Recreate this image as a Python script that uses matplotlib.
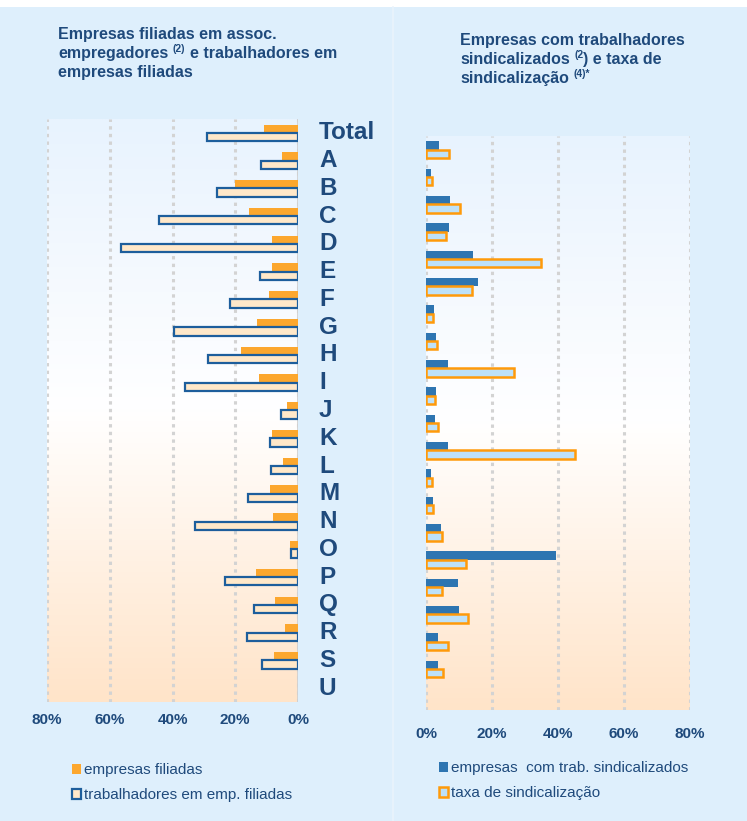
import numpy as np
import matplotlib
matplotlib.use("Agg")
import matplotlib.pyplot as plt
from matplotlib.patches import Patch, Rectangle
from matplotlib.lines import Line2D
from matplotlib.colors import LinearSegmentedColormap

# ---------------- data ----------------
categories = ["Total", "A", "B", "C", "D", "E", "F", "G", "H", "I", "J",
              "K", "L", "M", "N", "O", "P", "Q", "R", "S", "U"]
# left panel (%)
emp_filiadas = [10.7, 5.0, 20.2, 15.7, 8.4, 8.3, 9.3, 13.1, 18.2, 12.5, 3.5,
                8.3, 4.9, 8.8, 7.9, 2.4, 13.4, 7.2, 4.2, 7.8, None]
trab_emp_filiadas = [29.0, 11.8, 25.8, 44.2, 56.4, 12.2, 21.8, 39.6, 28.8, 35.9, 5.4,
                     8.8, 8.5, 16.0, 32.7, 2.3, 23.2, 13.9, 16.1, 11.5, None]
# right panel (%)
emp_trab_sind = [3.9, 1.4, 7.2, 7.0, 14.2, 15.9, 2.3, 3.0, 6.8, 2.9, 2.7,
                 6.8, 1.4, 2.2, 4.4, 39.4, 9.6, 10.0, 3.7, 3.5, None]
taxa_sind = [7.1, 1.9, 10.3, 6.2, 34.8, 14.0, 2.2, 3.3, 26.8, 2.8, 3.5,
             45.0, 1.8, 2.1, 4.9, 12.1, 4.9, 12.6, 6.6, 5.3, None]
ticks_left = [80, 60, 40, 20, 0]
ticks_right = [0, 20, 40, 60, 80]
tick_labels_left = ["80%", "60%", "40%", "20%", "0%"]
tick_labels_right = ["0%", "20%", "40%", "60%", "80%"]

# title lines as (text, superscript?) pieces; None = word space
title_left = [[("Empresas filiadas em assoc.", False)],
              [("empregadores", False), None, ("(2)", True), None,
               ("e trabalhadores em", False)],
              [("empresas filiadas", False)]]
title_right = [[("Empresas com trabalhadores", False)],
               [("sindicalizados", False), None, ("(2", True),
                (") e taxa de", False)],
               [("sindicalização", False), None, ("(4)*", True)]]
legend_left = ["empresas filiadas", "trabalhadores em emp. filiadas"]
legend_right = ["empresas  com trab. sindicalizados", "taxa de sindicalização"]

# ---------------- style ----------------
plt.rcParams['font.family'] = ['Liberation Sans', 'DejaVu Sans']

W, H = 747, 821
BG = "#DEEFFC"
NAVY = "#1F4A7C"
ORANGE = "#FCA72E"
PEACH = "#FFE8C9"
DBLUE = "#1D5E9C"
MBLUE = "#2E75B1"
LBLUE = "#BDE1F9"
ORANGE_EDGE = "#FF9A0A"
GRID = "#D3D3D3"

fig = plt.figure(figsize=(W / 100, H / 100), dpi=100)
fig.patch.set_facecolor(BG)

# white strip at top & faint separator
fig.add_artist(Rectangle((0, 1 - 7 / H), 1, 7 / H, transform=fig.transFigure,
                         facecolor="white", edgecolor="none", zorder=0))
fig.add_artist(Line2D([393 / W, 393 / W], [0, 1 - 7 / H], transform=fig.transFigure,
                      color="#EAF3FB", lw=1.2, zorder=0))

grad_cmap = LinearSegmentedColormap.from_list(
    "g", [(0.0, "#FFE4C9"), (0.5, "#FFFFFF"), (0.62, "#FAFCFF"), (1.0, "#E8F3FE")])
grad = np.linspace(0, 1, 256).reshape(-1, 1)


def fx(px):
    return px / W


def fy(px):
    return 1 - px / H


def setup(ax, xlim, ticks, labels, pad):
    ax.set_facecolor("none")
    ax.imshow(grad, extent=[0, 1, 0, 1], transform=ax.transAxes, cmap=grad_cmap,
              aspect="auto", origin="lower", zorder=0)
    ax.set_xlim(*xlim)
    ax.set_ylim(len(categories) - 0.5, -0.5)
    for s in ax.spines.values():
        s.set_visible(False)
    ax.set_yticks([])
    ax.set_xticks(ticks)
    ax.set_xticklabels(labels, fontsize=11, fontweight="bold", color=NAVY)
    ax.tick_params(axis="x", length=0, pad=pad)
    for t in ticks:
        ax.axvline(t, color=GRID, lw=2.2, ls=(0, (1.1, 1.4)), zorder=1)


y = np.arange(len(categories))
h = 0.3

# ---------------- left panel ----------------
axL = fig.add_axes([fx(47), fy(702), fx(298) - fx(47), fy(119) - fy(702)])
setup(axL, (80, 0), ticks_left, tick_labels_left, 8)
axL.axvline(0, color="#D0D0D0", lw=2.0, zorder=1)
iy = [i for i, v in enumerate(emp_filiadas) if v is not None]
axL.barh([y[i] - h / 2 for i in iy], [emp_filiadas[i] for i in iy], height=h,
         color=ORANGE, edgecolor="none", zorder=3)
iy2 = [i for i, v in enumerate(trab_emp_filiadas) if v is not None]
axL.barh([y[i] + h / 2 for i in iy2], [trab_emp_filiadas[i] for i in iy2], height=h,
         color=PEACH, edgecolor=DBLUE, lw=1.6, zorder=3)
for i, c in enumerate(categories):
    axL.text((319 - 47) / (298 - 47), y[i], c, transform=axL.get_yaxis_transform(),
             ha="left", va="center", fontsize=17.5, fontweight="bold", color=NAVY)

# ---------------- right panel ----------------
axR = fig.add_axes([fx(426), fy(710), fx(690) - fx(426), fy(136) - fy(710)])
setup(axR, (0, 80), ticks_right, tick_labels_right, 12)
iy = [i for i, v in enumerate(emp_trab_sind) if v is not None]
axR.barh([y[i] - h / 2 for i in iy], [emp_trab_sind[i] for i in iy], height=h,
         color=MBLUE, edgecolor="none", zorder=3)
iy2 = [i for i, v in enumerate(taxa_sind) if v is not None]
axR.barh([y[i] + h / 2 for i in iy2], [taxa_sind[i] for i in iy2], height=h,
         color=LBLUE, edgecolor=ORANGE_EDGE, lw=1.8, zorder=3)

# ---------------- titles (rich text built piecewise) ----------------
renderer = fig.canvas.get_renderer()
FS, FS_SUP, SPACE, SUP_RISE = 11.5, 7.5, 4.5, 6.0


def rich_line(x_px, base_px, pieces):
    x = x_px
    for p in pieces:
        if p is None:
            x += SPACE
            continue
        txt, sup = p
        t = fig.text(fx(x), fy(base_px - (SUP_RISE if sup else 0)), txt,
                     ha="left", va="baseline", fontsize=FS_SUP if sup else FS,
                     fontweight="bold", color=NAVY)
        bb = t.get_window_extent(renderer)
        x += bb.width


for line, base in zip(title_left, [39, 58, 77]):
    rich_line(58, base, line)
for line, base in zip(title_right, [45, 64, 83]):
    rich_line(460, base, line)

# ---------------- legends ----------------
hl = [Patch(facecolor=ORANGE, edgecolor="none"),
      Patch(facecolor=PEACH, edgecolor=DBLUE, lw=1.6)]
fig.legend(hl, legend_left, loc="upper left", bbox_to_anchor=(fx(72), fy(763)),
           frameon=False, borderpad=0, borderaxespad=0, handlelength=0.6,
           handleheight=0.65, handletextpad=0.2, labelspacing=0.72, fontsize=11,
           labelcolor=NAVY)
hr = [Patch(facecolor=MBLUE, edgecolor="none"),
      Patch(facecolor=LBLUE, edgecolor=ORANGE_EDGE, lw=1.8)]
fig.legend(hr, legend_right, loc="upper left", bbox_to_anchor=(fx(439), fy(761)),
           frameon=False, borderpad=0, borderaxespad=0, handlelength=0.6,
           handleheight=0.65, handletextpad=0.2, labelspacing=0.72, fontsize=11,
           labelcolor=NAVY)

fig.savefig("out.png", dpi=100, facecolor=fig.get_facecolor())
